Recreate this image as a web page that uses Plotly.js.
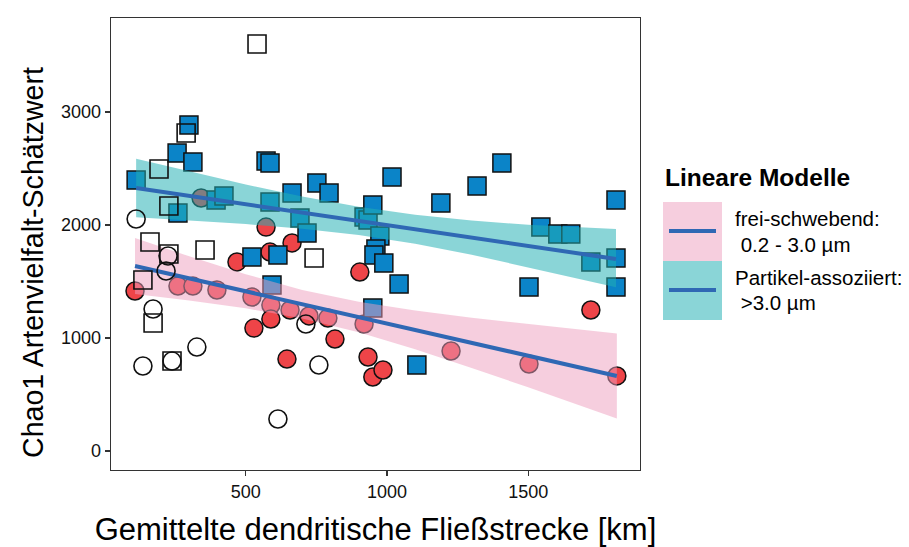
<!DOCTYPE html>
<html><head><meta charset="utf-8">
<script src="https://cdn.plot.ly/plotly-3.0.1.min.js"></script>
<style>html,body{margin:0;padding:0;background:#fff}#chart{width:909px;height:547px}</style>
</head><body><div id="chart"></div>
<script>
// ---- data ----
// filled red circles: frei-schwebend (0.2 - 3.0 µm)
const freeX = [108,260,313,342,398,469,522,529,572,586,589,589,657,664,724,646,791,816,904,919,933,950,986,1227,1503,1722,1814];
const freeY = [1416,1460,1460,2239,1425,1673,1363,1088,1982,1761,1292,1168,1248,1841,1195,814,1177,991,1584,1124,832,655,717,885,770,1248,664];
// filled blue squares: Partikel-assoziiert (>3.0 µm)
const partX = [299,257,313,112,260,395,423,572,586,586,664,692,752,795,717,919,933,950,975,961,954,989,1043,1106,1018,1191,1319,1407,1811,1545,1605,1651,1722,1811,1811,1503,593,522,614,950];
const partY = [2885,2637,2558,2398,2106,2221,2257,2566,2549,2204,2283,2062,2372,2283,1929,2071,2044,2177,1903,1788,1735,1664,1478,761,2425,2195,2345,2549,2221,1982,1920,1920,1673,1708,1451,1451,1469,1717,1735,1265];
// open circles
const openCircX = [112,225,218,172,136,239,327,614,713,759];
const openCircY = [2053,1726,1593,1257,752,796,920,283,1124,761];
// open squares
const openSqX = [540,289,193,228,161,228,136,172,239,356,742];
const openSqY = [3602,2814,2496,2168,1850,1743,1513,1133,796,1779,1708];
// linear models (line ends) and confidence bands
const fitFreeX = [108,1814];
const fitFreeY = [1637,664];
const fitPartX = [112,1811];
const fitPartY = [2327,1700];
const bandFreeX = [108,300,500,700,900,1100,1300,1500,1700,1814];
const bandFreeUp = [1885,1723,1564,1426,1321,1243,1179,1123,1070,1040];
const bandFreeLo = [1389,1332,1263,1173,1050,900,735,564,389,288];
const bandPartX = [112,300,500,700,900,1100,1300,1500,1700,1811];
const bandPartUp = [2586,2474,2359,2253,2161,2091,2040,2002,1975,1965];
const bandPartLo = [2068,2041,2008,1967,1911,1834,1737,1628,1512,1450];
// labels
const xTicks = [500,1000,1500];
const yTicks = [0,1000,2000,3000];
const xTitle = 'Gemittelte dendritische Fließstrecke [km]';
const yTitle = 'Chao1 Artenvielfalt-Schätzwert';
const legendTitle = 'Lineare Modelle';
const legendLabels = [['frei-schwebend:',' 0.2 - 3.0 µm'],['Partikel-assoziiert:',' >3.0 µm']];

const FONT = '"Liberation Sans", Arial, Helvetica, sans-serif';
const RED = '#EE4448', BLUE = '#0B84C8';
const PINK = 'rgba(237,157,189,0.5)', TEAL = 'rgba(34,176,180,0.53)';
const LINE = '#2F68B4';

function band(x, up, lo, color) {
  return {x: x.concat(x.slice().reverse()), y: up.concat(lo.slice().reverse()),
    type: 'scatter', mode: 'lines', fill: 'toself', fillcolor: color,
    line: {width: 0}, hoverinfo: 'skip', showlegend: false};
}
const traces = [
  {x: freeX, y: freeY, type: 'scatter', mode: 'markers', showlegend: false,
   marker: {symbol: 'circle', size: 18, color: RED, line: {color: '#111', width: 1.5}}},
  {x: partX, y: partY, type: 'scatter', mode: 'markers', showlegend: false,
   marker: {symbol: 'square', size: 18, color: BLUE, line: {color: '#111', width: 1.5}}},
  band(bandFreeX, bandFreeUp, bandFreeLo, PINK),
  band(bandPartX, bandPartUp, bandPartLo, TEAL),
  {x: fitFreeX, y: fitFreeY, type: 'scatter', mode: 'lines', showlegend: false, line: {color: LINE, width: 4}},
  {x: fitPartX, y: fitPartY, type: 'scatter', mode: 'lines', showlegend: false, line: {color: LINE, width: 4}},
  {x: openCircX, y: openCircY, type: 'scatter', mode: 'markers', showlegend: false,
   marker: {symbol: 'circle', size: 18, color: 'rgba(0,0,0,0)', line: {color: '#111', width: 1.6}}},
  {x: openSqX, y: openSqY, type: 'scatter', mode: 'markers', showlegend: false,
   marker: {symbol: 'square', size: 18, color: 'rgba(0,0,0,0)', line: {color: '#111', width: 1.6}}}
];

// legend geometry (pixels -> paper)
const L = 111, R = 640, T = 18, B = 470;
const px = p => (p - L) / (R - L);
const py = p => (B - p) / (B - T);
const shapes = [
  {type: 'rect', xref: 'paper', yref: 'paper', x0: px(663), x1: px(722), y0: py(261), y1: py(202), fillcolor: PINK, line: {width: 0}},
  {type: 'rect', xref: 'paper', yref: 'paper', x0: px(663), x1: px(722), y0: py(320), y1: py(261), fillcolor: TEAL, line: {width: 0}},
  {type: 'line', xref: 'paper', yref: 'paper', x0: px(669), x1: px(716), y0: py(231), y1: py(231), line: {color: LINE, width: 4}},
  {type: 'line', xref: 'paper', yref: 'paper', x0: px(669), x1: px(716), y0: py(290), y1: py(290), line: {color: LINE, width: 4}}
];
const annotations = [
  {xref: 'paper', yref: 'paper', x: px(33), y: py(263), xanchor: 'center', yanchor: 'middle', showarrow: false,
   textangle: -90, text: yTitle, font: {family: FONT, size: 28.6, color: '#000'}},
  {xref: 'paper', yref: 'paper', x: px(663), y: py(177), xanchor: 'left', yanchor: 'middle', showarrow: false,
   text: '<b>' + legendTitle + '</b>', font: {family: FONT, size: 24.5, color: '#000'}},
  {xref: 'paper', yref: 'paper', x: px(733), y: py(218), xanchor: 'left', yanchor: 'middle', showarrow: false,
   text: legendLabels[0][0], font: {family: FONT, size: 20.5, color: '#000'}},
  {xref: 'paper', yref: 'paper', x: px(733), y: py(244), xanchor: 'left', yanchor: 'middle', showarrow: false,
   text: legendLabels[0][1], font: {family: FONT, size: 20.5, color: '#000'}},
  {xref: 'paper', yref: 'paper', x: px(733), y: py(277), xanchor: 'left', yanchor: 'middle', showarrow: false,
   text: legendLabels[1][0], font: {family: FONT, size: 20.5, color: '#000'}},
  {xref: 'paper', yref: 'paper', x: px(733), y: py(303), xanchor: 'left', yanchor: 'middle', showarrow: false,
   text: legendLabels[1][1], font: {family: FONT, size: 20.5, color: '#000'}}
];

const layout = {
  width: 909, height: 547,
  margin: {l: 111, r: 269, t: 18, b: 77},
  paper_bgcolor: '#fff', plot_bgcolor: '#fff',
  font: {family: FONT, color: '#000'},
  showlegend: false,
  xaxis: {range: [23, 1896], tickvals: xTicks, ticktext: xTicks.map(String), showgrid: false, zeroline: false,
    showline: true, mirror: true, linecolor: '#333', linewidth: 1.3,
    ticks: 'outside', ticklen: 5, tickwidth: 1.3, tickcolor: '#333',
    tickfont: {family: FONT, size: 18, color: '#111'},
    title: {text: xTitle, font: {family: FONT, size: 31, color: '#000'}, standoff: 17}},
  yaxis: {range: [-168, 3832], tickvals: yTicks, ticktext: yTicks.map(String), showgrid: false, zeroline: false,
    showline: true, mirror: true, linecolor: '#333', linewidth: 1.3,
    ticks: 'outside', ticklen: 5, tickwidth: 1.3, tickcolor: '#333',
    tickfont: {family: FONT, size: 18, color: '#111'}},
  shapes: shapes, annotations: annotations
};
Plotly.newPlot('chart', traces, layout, {staticPlot: true, displayModeBar: false});
</script></body></html>
